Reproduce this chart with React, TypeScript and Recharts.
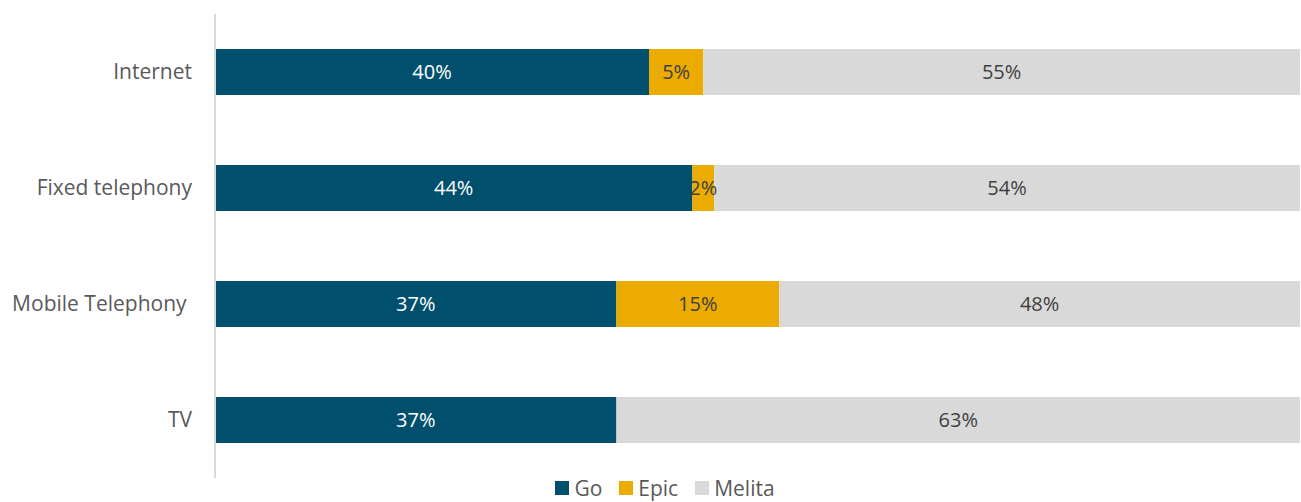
import { BarChart, Bar, XAxis, YAxis, LabelList } from "recharts";

const categories = ["Internet", "Fixed telephony", "Mobile Telephony\u00a0", "TV"];
const goValues = [40, 44, 37, 37];
const epicValues = [5, 2, 15, 0];
const melitaValues = [55, 54, 48, 63];

const seriesInfo = [
  { key: "go", name: "Go", color: "#004f6d", labelColor: "#ffffff" },
  { key: "epic", name: "Epic", color: "#ebab00", labelColor: "#404040" },
  { key: "melita", name: "Melita", color: "#d9d9d9", labelColor: "#404040" },
];

const data = categories.map((name, i) => ({
  name,
  go: goValues[i],
  epic: epicValues[i],
  melita: melitaValues[i],
}));

const FONT = "'Open Sans', sans-serif";

function LegendBox() {
  return (
    <div style={{ position: "absolute", left: 0, top: 474, width: 1330, display: "flex", justifyContent: "center", alignItems: "center", gap: 17, fontFamily: FONT, fontSize: 21, color: "#595959", lineHeight: "28px" }}>
      {seriesInfo.map((s) => (
        <div key={s.key} style={{ display: "flex", alignItems: "center" }}>
          <span style={{ display: "inline-block", width: 14, height: 14, background: s.color, marginRight: 5 }} />
          <span>{s.name}</span>
        </div>
      ))}
    </div>
  );
}

const fmt = (v: any) => (v ? `${v}%` : "");

export default function App() {
  return (
    <div style={{ position: "absolute", left: 0, top: 0, width: 1301, height: 502, background: "#fff", overflow: "hidden" }}>
      <BarChart
        width={1301}
        height={502}
        data={data}
        layout="vertical"
        margin={{ top: 14, right: 1, bottom: 24, left: 0 }}
      >
        <XAxis type="number" domain={[0, 100]} hide />
        <YAxis
          type="category"
          dataKey="name"
          width={215}
          tickLine={false}
          tickSize={0}
          tickMargin={23}
          axisLine={{ stroke: "#d9d9d9", strokeWidth: 2 }}
          tick={{ fill: "#595959", fontSize: 21, fontFamily: FONT }}
        />
        {seriesInfo.map((s) => (
          <Bar key={s.key} dataKey={s.key} name={s.name} stackId="a" fill={s.color} barSize={46} isAnimationActive={false}>
            <LabelList
              dataKey={s.key}
              position="center"
              formatter={fmt}
              style={{ fill: s.labelColor, fontSize: 20, fontFamily: FONT }}
            />
          </Bar>
        ))}
      </BarChart>
      <LegendBox />
    </div>
  );
}
